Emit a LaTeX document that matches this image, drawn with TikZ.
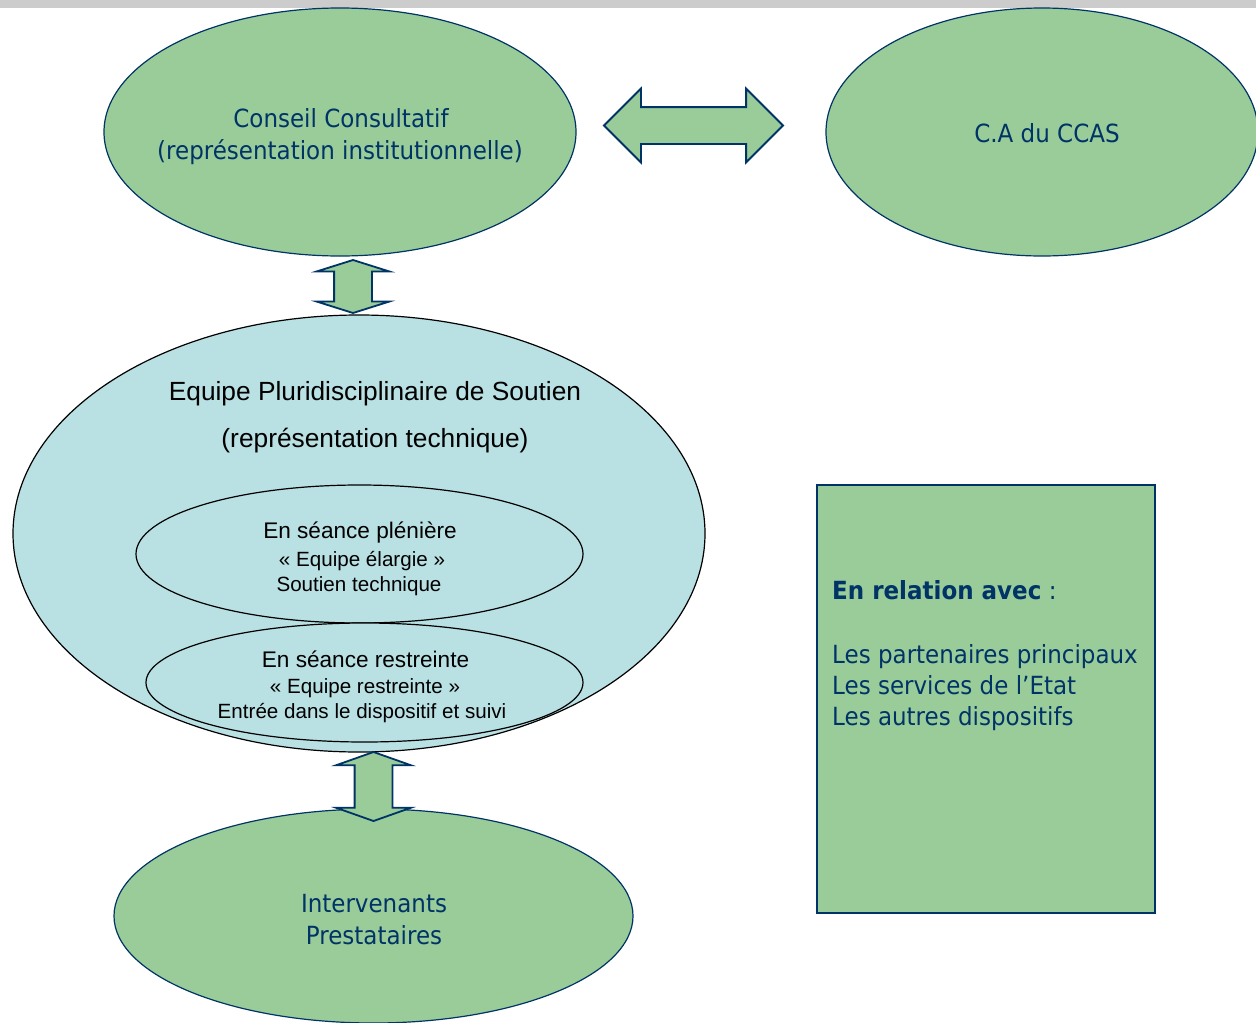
\documentclass[tikz,border=0pt]{standalone}
\usepackage{fontspec}
\setmainfont{Liberation Sans}
\newfontfamily\tahoma[FakeStretch=0.92]{DejaVu Sans}
\usetikzlibrary{shapes.geometric,shapes.arrows}
\definecolor{vert}{RGB}{153,204,153}
\definecolor{bleuclair}{RGB}{185,224,227}
\definecolor{marine}{RGB}{0,51,102}
\definecolor{grisbar}{RGB}{204,204,204}
\tikzset{%
	% Specifications for style of nodes:
	base/.style = {ellipse, inner sep=0pt, line width=1.2pt},
	greenEllipse/.style = {base, draw=marine, fill=vert},
	blueEllipse/.style = {base, draw=black, fill=bleuclair},
	relationBox/.style = {rectangle, draw=marine, fill=vert, line width=1.5pt},
	fatArrow/.style = {double arrow, draw=marine, fill=vert, line width=1.8pt,
		inner xsep=0pt, inner ysep=18pt, minimum height=#1},
	lineText/.style = {inner sep=0pt, anchor=base},
	greenText/.style = {lineText, text=marine, font=\tahoma\fontsize{25}{30}\selectfont},
	bigText/.style = {lineText, font=\fontsize{26.3}{31}\selectfont},
	midText/.style = {lineText, font=\fontsize{22.6}{27}\selectfont},
	smallText/.style = {lineText, font=\fontsize{20.6}{25}\selectfont},
}
\begin{document}
\begin{tikzpicture}[x=1pt, y=-1pt]
	\useasboundingbox (0,0) rectangle (1256,1023);
	\fill[grisbar] (0,0) rectangle (1256,8);
	
	% Specification of nodes (position, etc.)
	\node (conseil)      [greenEllipse, minimum width=472pt, minimum height=248pt] at (340,132) {};
	\node (ccas)         [greenEllipse, minimum width=432pt, minimum height=248pt] at (1042,132) {};
	\node (equipe)       [blueEllipse, minimum width=692pt, minimum height=437pt] at (359,533.5) {};
	\node (pleniere)     [blueEllipse, minimum width=447pt, minimum height=138pt] at (359.5,554) {};
	\node (restreinte)   [blueEllipse, minimum width=437pt, minimum height=119pt] at (364.5,682.5) {};
	\node (intervenants) [greenEllipse, minimum width=519pt, minimum height=214pt] at (373.5,916) {};
	\node (relation)     [relationBox, minimum width=338pt, minimum height=428pt] at (986,699) {};
	
	% arrows between the boxes
	\node (arrowCA)    [fatArrow=179pt, inner ysep=17.5pt, double arrow head extend=18.5pt,
		double arrow tip angle=90] at (693.5,125.5) {};
	\node (arrowTop)   [fatArrow=53pt, rotate=90, double arrow head extend=17.5pt,
		double arrow tip angle=145] at (353,286.5) {};
	\node (arrowBottom) [fatArrow=69pt, rotate=90, double arrow head extend=18.5pt,
		double arrow tip angle=141] at (373.5,786.5) {};
	
	% texts (placed on their base lines)
	\node (conseilA) [greenText] at (341,127) {Conseil Consultatif};
	\node (conseilB) [greenText] at (340,159) {(représentation institutionnelle)};
	\node (ccasA)    [greenText] at (1047,142) {C.A du CCAS};
	\node (intervA)  [greenText] at (374,912) {Intervenants};
	\node (intervB)  [greenText] at (374,944) {Prestataires};
	
	\node (equipeA) [bigText] at (375,400) {Equipe Pluridisciplinaire de Soutien};
	\node (equipeB) [bigText] at (375,447) {(représentation technique)};
	
	\node (pleniereA) [midText]   at (360,538) {En séance plénière};
	\node (pleniereB) [smallText] at (362,566) {« Equipe élargie »};
	\node (pleniereC) [smallText] at (359,591) {Soutien technique};
	
	\node (restreinteA) [midText]   at (365.5,667) {En séance restreinte};
	\node (restreinteB) [smallText] at (365,693) {« Equipe restreinte »};
	\node (restreinteC) [smallText] at (362,718) {Entrée dans le dispositif et suivi};
	
	\node (relationA) [greenText, anchor=base west] at (832,599) {\textbf{En relation avec} :};
	\node (relationB) [greenText, anchor=base west] at (832,663) {Les partenaires principaux};
	\node (relationC) [greenText, anchor=base west] at (832,694) {Les services de l’Etat};
	\node (relationD) [greenText, anchor=base west] at (832,725) {Les autres dispositifs};
	
\end{tikzpicture}
\end{document}
